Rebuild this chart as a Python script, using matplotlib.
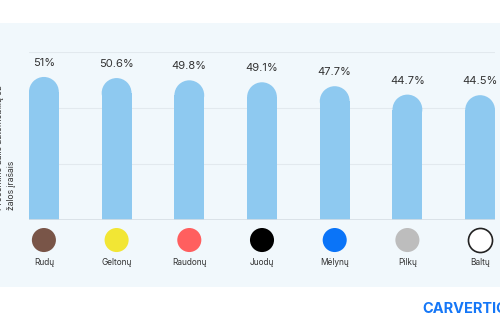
import matplotlib

matplotlib.use("Agg")

import matplotlib.pyplot as plt

plt.rcParams["font.family"] = ["Inter", "DejaVu Sans"]

colours = ["Rudų", "Geltonų", "Raudonų", "Juodų", "Mėlynų", "Pilkų", "Baltų"]
shares = [51, 50.6, 49.8, 49.1, 47.7, 44.7, 44.5]
value_labels = ["51%", "50.6%", "49.8%", "49.1%", "47.7%", "44.7%", "44.5%"]
swatches = ["#795548", "#F2E634", "#FF5F5F", "#000000", "#0A74F8", "#BDBDBD", "#FFFFFF"]
y_ticks = [0, 20, 40, 60]

BAR = "#8EC9F0"
PANEL = "#F1F8FC"
GRID = "#E2E9EE"
BAR_W = 0.41

fig = plt.figure(figsize=(5.0, 3.3), dpi=100)
fig.patch.set_facecolor("white")

# light panel behind the chart
bg = fig.add_axes([0, 43 / 330, 1, 264 / 330], zorder=-1)
bg.set_axis_off()
bg.add_patch(plt.Rectangle((0, 0), 1, 1, transform=bg.transAxes, facecolor=PANEL,
                           edgecolor="none"))

ax = fig.add_axes([29 / 500, 110 / 330, 466 / 500, 168.3 / 330])
ax.set_facecolor("none")
x = list(range(len(colours)))
ax.set_xlim(-BAR_W / 2, len(colours) - 1 + BAR_W / 2)
ax.set_ylim(0, 60)

# convert the bar half-width into y data units so the caps come out round
pos = ax.get_position()
ax_w_px = pos.width * fig.get_figwidth() * fig.dpi
ax_h_px = pos.height * fig.get_figheight() * fig.dpi
x_span = ax.get_xlim()[1] - ax.get_xlim()[0]
radius_px = BAR_W / 2 * ax_w_px / x_span
radius_y = radius_px * 60 / ax_h_px

for gy in y_ticks[1:]:
    ax.axhline(gy, color=GRID, lw=0.8, zorder=1)
ax.axhline(0, color="#D6DEE4", lw=1.2, zorder=3)

ax.bar(x, [v - radius_y for v in shares], width=BAR_W, color=BAR, zorder=2)
for xi, v, lab in zip(x, shares, value_labels):
    ax.add_patch(matplotlib.patches.Ellipse((xi, v - radius_y), BAR_W, 2 * radius_y,
                                            facecolor=BAR, edgecolor="none", zorder=2))
    ax.text(xi, v + 5.0, lab, ha="center", va="center", fontsize=8, color="#333333")

for spine in ax.spines.values():
    spine.set_visible(False)
ax.set_xticks([])
ax.set_yticks([])

# colour swatches and names under the bars
trans = ax.get_xaxis_transform()
for xi, c, name in zip(x, swatches, colours):
    ax.scatter([xi], [-0.119], s=300, color=c, edgecolors="#222222" if c == "#FFFFFF" else "none",
               linewidths=1.2, transform=trans, clip_on=False, zorder=4)
    ax.text(xi, -0.255, name, transform=trans, ha="center", va="center",
            fontsize=6, color="#333333")

fig.text(0.011, (330 - 210) / 330, "Procentinė dalis automobilių su\nžalos įrašais", rotation=90,
         ha="center", va="bottom", multialignment="left", fontsize=6.2, color="#333333",
         linespacing=1.35)

fig.text(422 / 500, 21 / 330, "CARVERTICAL", ha="left", va="center", fontsize=10.5,
         fontweight="bold", color="#1577F7")

fig.savefig("out.png", dpi=100, facecolor="white")
